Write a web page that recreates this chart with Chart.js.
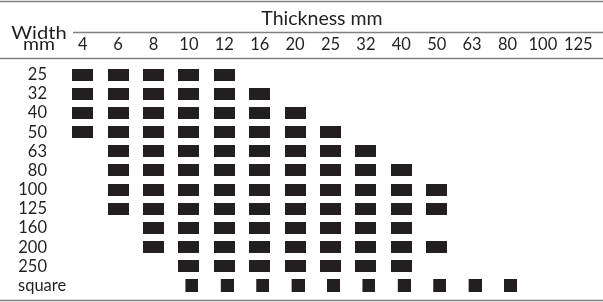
<!DOCTYPE html>
<html>
<head>
<meta charset="utf-8">
<script src="https://cdn.jsdelivr.net/npm/chart.js@4.4.1/dist/chart.umd.min.js"></script>
<style>
  html, body { margin: 0; padding: 0; background: #ffffff; }
  #wrap { width: 603px; height: 302px; position: relative; }
</style>
</head>
<body>
<div id="wrap"><canvas id="c" width="603" height="302"></canvas></div>
<script>
// ---- data ----
const thickness = ['4','6','8','10','12','16','20','25','32','40','50','63','80','100','125'];
const widths = ['25','32','40','50','63','80','100','125','160','200','250','square'];

const w25  = ['4','6','8','10','12'];
const w32  = ['4','6','8','10','12','16'];
const w40  = ['4','6','8','10','12','16','20'];
const w50  = ['4','6','8','10','12','16','20','25'];
const w63  = ['6','8','10','12','16','20','25','32'];
const w80  = ['6','8','10','12','16','20','25','32','40'];
const w100 = ['6','8','10','12','16','20','25','32','40','50'];
const w125 = ['6','8','10','12','16','20','25','32','40','50'];
const w160 = ['8','10','12','16','20','25','32','40'];
const w200 = ['8','10','12','16','20','25','32','40','50'];
const w250 = ['10','12','16','20','25','32','40'];
const sq   = ['10','12','16','20','25','32','40','50','63','80'];

const flatRows = [
  ['25', w25], ['32', w32], ['40', w40], ['50', w50], ['63', w63], ['80', w80],
  ['100', w100], ['125', w125], ['160', w160], ['200', w200], ['250', w250]
];

const flatPoints = [];
flatRows.forEach(([w, list]) => list.forEach(t => flatPoints.push({x: t, y: w})));
const squarePoints = sq.map(t => ({x: t, y: 'square'}));

// ---- marker images ----
const INK = '#231f20';
function makeMarker(cw, ch, rx, ry, rw, rh) {
  const c = document.createElement('canvas');
  c.width = cw; c.height = ch;
  const g = c.getContext('2d');
  g.fillStyle = INK;
  g.fillRect(rx, ry, rw, rh);
  return c;
}
const flatMarker = makeMarker(21, 12, 0, 0, 21, 12);
const squareMarker = makeMarker(19, 13, 6, 0, 13, 13);

const FONT = 'Lato, "Open Sans", sans-serif';

const decor = {
  id: 'decor',
  afterDraw(chart) {
    const ctx = chart.ctx;
    const xs = chart.scales.x, ys = chart.scales.y;
    const W = chart.width;
    ctx.save();
    // rules
    ctx.strokeStyle = '#808080';
    ctx.lineWidth = 1.5;
    const hline = (x0, x1, y) => { ctx.beginPath(); ctx.moveTo(x0, y); ctx.lineTo(x1, y); ctx.stroke(); };
    hline(0, W, 1.5);
    hline(73, W, 32.5);
    hline(0, W, 58.5);
    hline(0, W, 300.5);

    ctx.fillStyle = INK;
    // title
    ctx.font = '19.5px ' + FONT;
    ctx.textAlign = 'center';
    ctx.textBaseline = 'alphabetic';
    ctx.fillText('Thickness mm', 322, 25);
    // Width / mm
    ctx.font = '18px ' + FONT;
    ctx.textAlign = 'center';
    ctx.save();
    ctx.translate(39, 38.5);
    ctx.scale(1.12, 1);
    ctx.fillText('Width', 0, 0);
    ctx.restore();
    ctx.save();
    ctx.translate(39, 50);
    ctx.scale(1.08, 1);
    ctx.fillText('mm', 0, 0);
    ctx.restore();

    // column labels
    ctx.font = '16.5px ' + FONT;
    ctx.textAlign = 'center';
    thickness.forEach(t => {
      ctx.fillText(t, xs.getPixelForValue(t), 50);
    });
    // row labels
    widths.forEach(w => {
      const y = ys.getPixelForValue(w) + 5.5;
      if (w === 'square') {
        ctx.textAlign = 'left';
        ctx.fillText(w, 18, y);
      } else {
        ctx.textAlign = 'right';
        ctx.fillText(w, 47, y);
      }
    });
    ctx.restore();
  }
};

new Chart(document.getElementById('c'), {
  type: 'scatter',
  data: {
    datasets: [
      { label: 'flat', data: flatPoints, pointStyle: flatMarker, pointRadius: 6, backgroundColor: INK, borderColor: INK },
      { label: 'square', data: squarePoints, pointStyle: squareMarker, pointRadius: 6, backgroundColor: INK, borderColor: INK }
    ]
  },
  options: {
    responsive: false,
    animation: false,
    events: [],
    layout: { padding: { left: 65, right: 3, top: 65, bottom: 3 } },
    plugins: { legend: { display: false }, tooltip: { enabled: false }, title: { display: false } },
    scales: {
      x: { type: 'category', labels: thickness, offset: true, display: false },
      y: { type: 'category', labels: widths, offset: true, display: false }
    }
  },
  plugins: [decor]
});
</script>
</body>
</html>
